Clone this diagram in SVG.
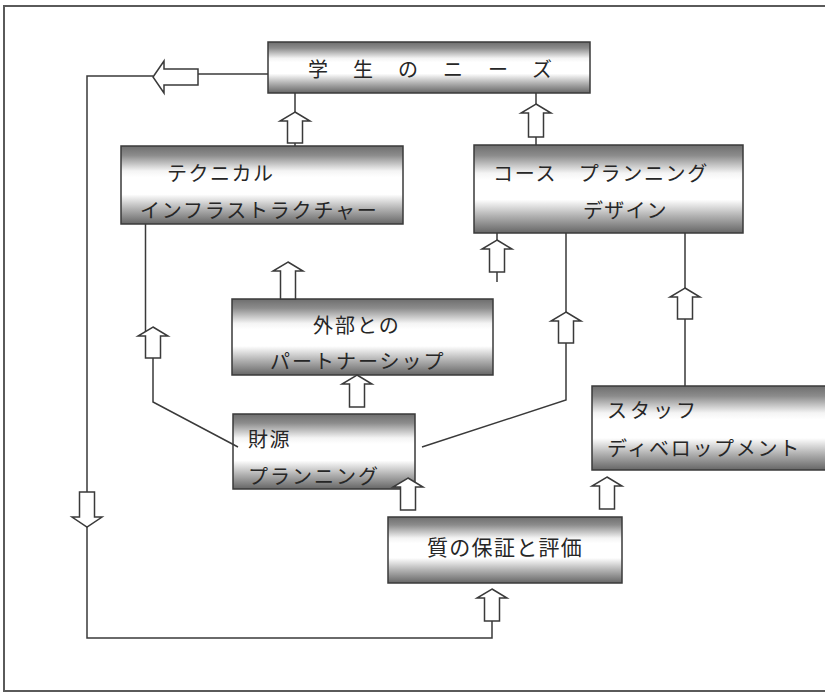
<svg xmlns="http://www.w3.org/2000/svg" width="825" height="692" viewBox="0 0 825 692">
<defs>
<linearGradient id="g" x1="0" y1="0" x2="0" y2="1">
<stop offset="0" stop-color="#6e6e6e"/>
<stop offset="0.12" stop-color="#8c8c8c"/>
<stop offset="0.32" stop-color="#f4f4f4"/>
<stop offset="0.4" stop-color="#ffffff"/>
<stop offset="0.62" stop-color="#ffffff"/>
<stop offset="0.8" stop-color="#b4b4b4"/>
<stop offset="1" stop-color="#666666"/>
</linearGradient>
<style>
.node{fill:url(#g);stroke:#3a3a3a;stroke-width:1.5}
.t{font-family:"Noto Sans CJK JP","Noto Sans CJK SC",sans-serif;font-size:20px;fill:#262626}
.ln{fill:none;stroke:#3a3a3a;stroke-width:1.5}
.ar{fill:#ffffff;stroke:#3a3a3a;stroke-width:1.5;stroke-linejoin:miter}
.fr{fill:none;stroke:#5a5a5a;stroke-width:2}
</style>
</defs>
<rect width="825" height="692" fill="#ffffff"/>
<path class="fr" d="M826,6 L4,6 L4,691 L826,691"/>

<g id="n-needs">
<rect class="node" x="268" y="42" width="322" height="51"/>
<text class="t" x="308" y="77" letter-spacing="25">学生のニーズ</text>
</g>
<g id="n-tech">
<rect class="node" x="121" y="146" width="282" height="78"/>
<text class="t" x="167" y="181" letter-spacing="1.5">テクニカル</text>
<text class="t" x="140" y="218" letter-spacing="1.8">インフラストラクチャー</text>
</g>
<g id="n-course">
<rect class="node" x="474" y="145" width="269" height="88"/>
<text class="t" x="493" y="181" letter-spacing="1.7">コース　プランニング</text>
<text class="t" x="583" y="218" letter-spacing="1.2">デザイン</text>
</g>
<g id="n-partner">
<rect class="node" x="232" y="299" width="261" height="76"/>
<text class="t" x="313" y="333" letter-spacing="2">外部との</text>
<text class="t" x="270" y="369" letter-spacing="2">パートナーシップ</text>
</g>
<g id="n-finance">
<rect class="node" x="233" y="414" width="182" height="75"/>
<text class="t" x="248" y="447" letter-spacing="1.5">財源</text>
<text class="t" x="248" y="484" letter-spacing="2">プランニング</text>
</g>
<g id="n-staff">
<rect class="node" x="592" y="386" width="240" height="84"/>
<text class="t" x="607" y="418" letter-spacing="3">スタッフ</text>
<text class="t" x="607" y="456" letter-spacing="1.7">ディベロップメント</text>
</g>
<g id="n-quality">
<rect class="node" x="388" y="517" width="234" height="66"/>
<text class="t" x="427" y="555" font-size="21" letter-spacing="1.3" style="font-size:21px">質の保証と評価</text>
</g>

<g id="connectors">
<path class="ln" d="M268,74 L198,74"/>
<path class="ln" d="M153,76 L87,76 L87,638 L492,638 L492,621"/>
<path class="ln" d="M295,93 L295,112 M295,143 L295,146"/>
<path class="ln" d="M536,93 L536,104 M536,137 L536,145"/>
<path class="ln" d="M497,233 L497,240 M497,272 L497,282"/>
<path class="ln" d="M145.5,224 L145.5,336 M153,358 L153,402 L238,447"/>
<path class="ln" d="M566,233 L566,312 M566,343 L566,400 L422,447"/>
<path class="ln" d="M685,233 L685,288 M685,319 L685,386"/>

<path class="ar" d="M153,77 L164,61 L164,69 L198,69 L198,85 L164,85 L164,93 Z"/>
<path class="ar" d="M79.5,492 L94.5,492 L94.5,517 L102,517 L87,527 L72,517 L79.5,517 Z"/>
<path class="ar" d="M295,112 L310,121 L302.5,121 L302.5,143 L287.5,143 L287.5,121 L280,121 Z"/>
<path class="ar" d="M536,104 L551,113 L543.5,113 L543.5,137 L528.5,137 L528.5,113 L521,113 Z"/>
<path class="ar" d="M497,240 L512,249 L504.5,249 L504.5,272 L489.5,272 L489.5,249 L482,249 Z"/>
<path class="ar" d="M288,262 L303,271 L295.5,271 L295.5,299 L280.5,299 L280.5,271 L273,271 Z"/>
<path class="ar" d="M357,375 L372,384 L364.5,384 L364.5,407 L349.5,407 L349.5,384 L342,384 Z"/>
<path class="ar" d="M153,327 L168,336 L160.5,336 L160.5,358 L145.5,358 L145.5,336 L138,336 Z"/>
<path class="ar" d="M566,312 L581,321 L573.5,321 L573.5,343 L558.5,343 L558.5,321 L551,321 Z"/>
<path class="ar" d="M685,288 L700,297 L692.5,297 L692.5,319 L677.5,319 L677.5,297 L670,297 Z"/>
<path class="ar" d="M408,478 L423,487 L415.5,487 L415.5,510 L400.5,510 L400.5,487 L393,487 Z"/>
<path class="ar" d="M607,477 L622,486 L614.5,486 L614.5,509 L599.5,509 L599.5,486 L592,486 Z"/>
<path class="ar" d="M492,589 L507,598 L499.5,598 L499.5,621 L484.5,621 L484.5,598 L477,598 Z"/>
</g>
</svg>
